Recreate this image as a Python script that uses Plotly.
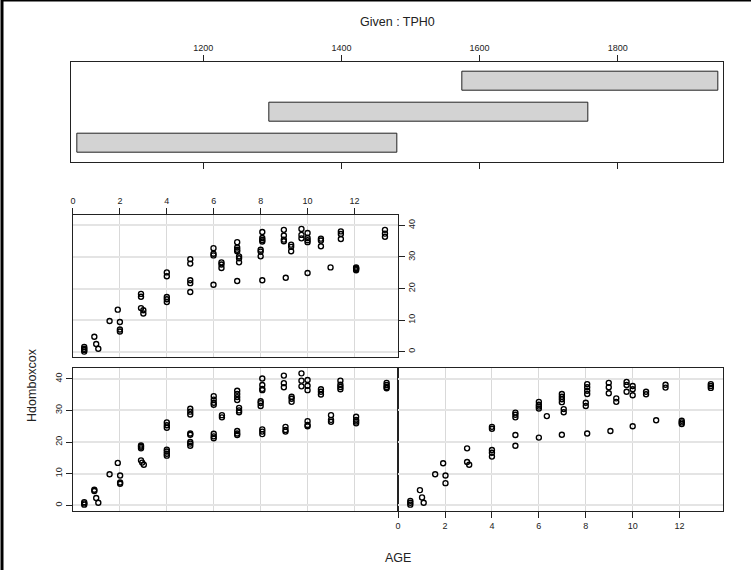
import plotly.graph_objects as go

# Conditioning intervals of TPH0 (shingle levels, bottom to top)
tph0_lower = [1018, 1296, 1575]
tph0_upper = [1481, 1758, 1946]
tph0_level = [1, 2, 3]

# Panel 1: lowest TPH0 interval (bottom-left)
age_1 = [0.48, 0.48, 0.48, 0.91, 0.91, 0.99, 1.08, 1.56, 1.91, 2.01, 2.01, 2.01,
         2.9, 2.9, 2.9, 2.9, 2.95, 3.02,
         4.0, 4.0, 4.0, 4.0, 4.0, 4.0, 4.0,
         5.0, 5.0, 5.0, 5.0, 5.0, 5.0, 5.0, 5.0,
         6.0, 6.0, 6.0, 6.0, 6.35, 6.35, 6.0, 6.0, 6.0,
         7.0, 7.0, 7.0, 7.0, 7.08, 7.08, 7.08, 7.0, 7.0, 7.0,
         8.07, 8.07, 8.07, 8.07, 8.0, 8.0, 8.0, 8.07, 8.07, 8.07,
         8.99, 8.99, 8.99, 9.32, 9.32, 9.32, 9.06, 9.06, 9.06,
         9.74, 9.74, 9.74, 10.0, 10.0, 10.0, 10.0, 10.0, 10.0,
         10.57, 10.57, 10.57, 11.4, 11.4, 11.4, 11.4, 11.0, 11.0, 11.0,
         12.07, 12.07, 12.07, 12.07, 13.37, 13.37, 13.37, 13.37]
hdom_1 = [0.2, 0.6, 1.0, 4.5, 4.9, 2.3, 0.8, 9.8, 13.4, 9.4, 6.8, 7.2,
          18.0, 18.5, 18.9, 14.2, 13.5, 12.8,
          24.5, 25.3, 26.2, 15.7, 16.3, 17.0, 17.6,
          28.7, 29.6, 30.5, 22.3, 22.7, 18.8, 19.5, 20.0,
          31.8, 32.4, 33.4, 34.5, 27.8, 28.5, 21.2, 21.8, 22.6,
          33.3, 34.2, 35.2, 36.2, 29.4, 30.0, 30.8, 22.2, 22.7, 23.5,
          36.4, 36.8, 38.0, 40.1, 31.4, 32.3, 32.9, 22.5, 23.3, 24.0,
          37.3, 38.6, 41.0, 32.7, 33.7, 34.3, 23.3, 23.8, 24.8,
          37.6, 39.4, 41.7, 36.4, 37.8, 39.6, 25.0, 25.4, 26.6,
          35.0, 35.9, 36.7, 36.7, 37.4, 38.1, 39.4, 26.4, 27.0, 28.5,
          25.9, 26.5, 27.0, 28.0, 37.0, 37.4, 38.0, 38.7]

# Panel 2: middle TPH0 interval (bottom-right)
age_2 = [0.52, 0.52, 0.52, 0.93, 1.02, 1.09, 1.58, 1.92, 2.02, 2.02,
         2.94, 2.94, 3.03,
         4.0, 4.0, 4.0, 4.0, 4.0,
         5.0, 5.0, 5.0, 5.0, 5.0,
         6.0, 6.0, 6.0, 6.0, 6.34, 6.0,
         6.98, 6.98, 6.98, 6.98, 7.06, 7.06, 6.98,
         8.06, 8.06, 8.06, 8.06, 8.0, 8.0, 8.06,
         8.98, 8.98, 8.98, 9.3, 9.3, 9.05,
         9.74, 9.74, 9.74, 10.0, 10.0, 10.0, 10.0,
         10.57, 10.57, 11.4, 11.4, 11.0,
         12.09, 12.09, 12.09, 13.33, 13.33, 13.33]
hdom_2 = [0.2, 0.8, 1.4, 4.8, 2.5, 0.8, 9.8, 13.3, 9.4, 7.0,
          18.0, 13.7, 12.8,
          24.2, 24.8, 15.4, 16.6, 17.5,
          27.8, 28.6, 29.3, 22.2, 18.8,
          30.6, 31.2, 31.8, 32.7, 28.2, 21.4,
          32.6, 33.5, 34.3, 35.2, 29.4, 30.4, 22.3,
          35.2, 36.2, 37.3, 38.3, 31.4, 32.4, 22.7,
          35.4, 37.3, 38.7, 32.7, 33.8, 23.5,
          35.9, 38.0, 39.0, 34.8, 36.7, 37.7, 25.0,
          35.1, 35.9, 37.2, 38.1, 26.9,
          25.7, 26.2, 26.7, 37.1, 37.7, 38.3]

# Panel 3: highest TPH0 interval (top-left)
age_3 = [0.48, 0.48, 0.48, 0.48, 0.91, 0.99, 1.08, 1.56, 1.91, 2.0, 2.0, 2.0,
         2.9, 2.9, 2.9, 3.0, 3.0,
         4.0, 4.0, 4.0, 4.0, 4.0,
         5.0, 5.0, 5.0, 5.0, 5.0,
         5.99, 5.99, 5.99, 6.33, 6.33, 6.33, 5.99,
         7.0, 7.0, 7.0, 7.0, 7.08, 7.08, 7.08, 7.0,
         8.07, 8.07, 8.07, 8.07, 8.0, 8.0, 8.0, 8.07,
         8.99, 8.99, 8.99, 8.99, 9.3, 9.3, 9.3, 9.07,
         9.74, 9.74, 9.74, 10.0, 10.0, 10.0, 10.0, 10.0,
         10.57, 10.57, 10.57, 11.42, 11.42, 11.42, 10.98,
         12.07, 12.07, 12.07, 12.07, 13.3, 13.3, 13.3]
hdom_3 = [0.0, 0.5, 0.9, 1.5, 4.7, 2.4, 0.9, 9.7, 13.3, 9.4, 6.4, 7.0,
          17.4, 18.3, 13.8, 12.1, 13.1,
          23.9, 25.1, 15.7, 16.6, 17.3,
          27.9, 29.3, 21.7, 22.6, 18.9,
          30.5, 31.0, 32.8, 26.5, 27.6, 28.3, 21.2,
          31.8, 32.3, 33.0, 34.7, 28.3, 29.6, 30.2, 22.4,
          34.9, 35.4, 36.0, 37.9, 30.2, 31.7, 32.3, 22.6,
          35.0, 35.5, 36.8, 38.6, 31.8, 33.2, 33.9, 23.4,
          35.9, 37.0, 38.9, 34.7, 35.3, 36.0, 37.6, 24.9,
          33.4, 35.2, 35.8, 35.7, 37.3, 38.1, 26.7,
          25.8, 26.2, 26.4, 26.7, 36.4, 37.4, 38.6]

age_ticks = [0, 2, 4, 6, 8, 10, 12]
hdom_ticks = [0, 10, 20, 30, 40]
tph0_ticks = [1200, 1400, 1600, 1800]

W, H = 751, 570
FONT = "Liberation Sans, Arial, sans-serif"


def px_x(p):
    return p / W


def px_y(p):
    return 1 - p / H


AGE_RANGE = [-0.02, 13.84]
HDOM_RANGE = [-1.8, 43.3]
LEFT_COL = [px_x(70.7), px_x(396.7)]
RIGHT_COL = [px_x(396.7), px_x(722.7)]
TOP_ROW = [px_y(357.3), px_y(215)]
BOT_ROW = [px_y(511), px_y(368.3)]

fig = go.Figure()

# Given panel: one bar per TPH0 interval
fig.add_trace(go.Bar(
    y=tph0_level,
    x=[u - l for l, u in zip(tph0_lower, tph0_upper)],
    base=tph0_lower,
    orientation="h",
    width=0.6,
    marker=dict(color="#d3d3d3", line=dict(color="#222222", width=1)),
    xaxis="x", yaxis="y",
    showlegend=False, hoverinfo="skip",
))

marker = dict(symbol="circle-open", size=5, color="black", line=dict(width=1.4, color="black"))
for ages, hs, xa, ya in [(age_1, hdom_1, "x3", "y3"),
                         (age_2, hdom_2, "x4", "y4"),
                         (age_3, hdom_3, "x2", "y2")]:
    fig.add_trace(go.Scatter(x=ages, y=hs, mode="markers", marker=marker,
                             xaxis=xa, yaxis=ya, showlegend=False))

axis_common = dict(showline=True, linecolor="#222222", linewidth=1, zeroline=False,
                   tickcolor="#222222", ticklen=6, tickwidth=1,
                   tickfont=dict(family=FONT, size=9, color="#222222"))
vgrid = dict(showgrid=True, gridcolor="#d9d9d9", gridwidth=1)
hgrid = dict(showgrid=True, gridcolor="#e4e4e4", gridwidth=2)

fig.update_layout(
    width=W, height=H,
    margin=dict(l=0, r=0, t=0, b=0),
    paper_bgcolor="white", plot_bgcolor="white",
    font=dict(family=FONT, color="#222222"),
    xaxis=dict(domain=[px_x(69.5), px_x(722.7)], anchor="y", range=[1009, 1952],
               side="top", tickvals=tph0_ticks, ticks="outside", mirror="ticks",
               showgrid=False, **axis_common),
    yaxis=dict(domain=[px_y(162.3), px_y(61.7)], anchor="x", range=[0.38, 3.62],
               showticklabels=False, ticks="", mirror=True, showgrid=False,
               **axis_common),
    xaxis2=dict(domain=LEFT_COL, anchor="y2", range=AGE_RANGE, side="top",
                tickvals=age_ticks, ticks="outside", mirror=True, **vgrid, **axis_common),
    yaxis2=dict(domain=TOP_ROW, anchor="x2", range=HDOM_RANGE, side="right",
                tickvals=hdom_ticks, ticks="outside", mirror=True, tickangle=-90,
                **hgrid, **axis_common),
    xaxis3=dict(domain=LEFT_COL, anchor="y3", range=AGE_RANGE, tickvals=age_ticks,
                ticks="", showticklabels=False, mirror=True, **vgrid, **axis_common),
    yaxis3=dict(domain=BOT_ROW, anchor="x3", range=HDOM_RANGE, tickvals=hdom_ticks,
                ticks="outside", mirror=True, tickangle=-90, **hgrid, **axis_common),
    xaxis4=dict(domain=RIGHT_COL, anchor="y4", range=AGE_RANGE, tickvals=age_ticks,
                ticks="outside", mirror=True, **vgrid, **axis_common),
    yaxis4=dict(domain=BOT_ROW, anchor="x4", range=HDOM_RANGE, tickvals=hdom_ticks,
                ticks="", showticklabels=False, mirror=True, **hgrid, **axis_common),
    bargap=0,
)

label_font = dict(family=FONT, size=12.5, color="#222222")
fig.add_annotation(text="Given : TPH0", xref="paper", yref="paper",
                   x=px_x(397), y=px_y(22), xanchor="center", yanchor="middle",
                   showarrow=False, font=label_font)
fig.add_annotation(text="AGE", xref="paper", yref="paper",
                   x=px_x(397), y=px_y(558), xanchor="center", yanchor="middle",
                   showarrow=False, font=label_font)
fig.add_annotation(text="Hdomboxcox", xref="paper", yref="paper",
                   x=px_x(30), y=px_y(385), xanchor="center", yanchor="middle",
                   showarrow=False, textangle=-90, font=label_font)

# Outer frame (top and left edges)
for x0, y0, x1, y1 in [(0, 1, 1, 1), (0, 0, 0, 1)]:
    fig.add_shape(type="line", xref="paper", yref="paper", x0=x0, y0=y0, x1=x1, y1=y1,
                  line=dict(color="black", width=3))

fig.write_html("out.html")
